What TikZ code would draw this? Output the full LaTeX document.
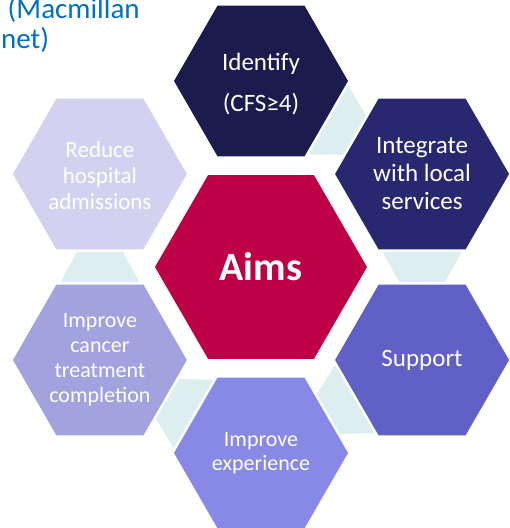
\documentclass[tikz,border=0pt]{standalone}
\usepackage{fontspec}
\setmainfont{Carlito}
\usepackage{tikz}
\usetikzlibrary{shapes.geometric,calc,positioning}

\definecolor{identC}{RGB}{28,27,78}
\definecolor{integC}{RGB}{40,40,112}
\definecolor{supportC}{RGB}{96,96,198}
\definecolor{expC}{RGB}{136,136,230}
\definecolor{cancerC}{RGB}{162,162,222}
\definecolor{reduceC}{RGB}{210,210,240}
\definecolor{aimsC}{RGB}{190,0,70}
\definecolor{linkC}{RGB}{221,238,240}
\definecolor{noteC}{RGB}{0,112,192}

\tikzset{
    hexa/.style={regular polygon, regular polygon sides=6, minimum size=174pt, inner sep=0pt, outer sep=0pt},
    hextext/.style={text=white, align=center, inner sep=0pt},
    note/.style={anchor=base west, text=noteC, font=\fontsize{29}{27}\selectfont, inner sep=0pt},
}

\begin{document}
\begin{tikzpicture}[x=1pt, y=1pt]
    \useasboundingbox (-261,-261) rectangle (249,267);

    \node[note] (note-1) at (-253.5,248) {(Macmillan};
    \node[note] (note-2) at (-260,218) {net)};

    \node[hexa, minimum size=212pt, fill=aimsC] (aims) at (0,0) {};
    \node[hextext, font=\fontsize{40}{44}\bfseries\selectfont] (aims-t) at (aims) {Aims};

    \foreach \ang/\hname/\hcol/\fs/\ls/\dy/\htext in {
        90/identify/identC/25/41/-3/{Identify\\(CFS≥4)},
        30/integrate/integC/25/28/0/{Integrate\\with local\\services},
        -30/support/supportC/25/28/0/{Support},
        -90/experience/expC/22/24/0/{Improve\\experience},
        -150/cancer/cancerC/22/25/0/{Improve\\cancer\\treatment\\completion},
        150/reduce/reduceC/23/26/-2/{Reduce\\hospital\\admissions}} {
        \node[hexa, fill=\hcol] (\hname) at (\ang:186pt) {};
        \node[hextext, font=\fontsize{\fs}{\ls}\selectfont, yshift=\dy pt] (\hname-t) at (\hname) {\htext};
    }

    % links between neighbours
    \foreach \a/\b in {identify/integrate, integrate/support, support/experience, experience/cancer, cancer/reduce} {
        \coordinate (\a-w) at ($(\a)!0.4194!(\b)$);
        \coordinate (\a-n) at ($(\a)!0.5806!(\b)$);
        \fill[linkC] ($(\a-w)!39.5pt!90:(\b)$) -- ($(\a-w)!39.5pt!-90:(\b)$)
            -- ($(\a-n)!23pt!-90:(\b)$) -- ($(\a-n)!23pt!90:(\b)$) -- cycle;
    }
\end{tikzpicture}
\end{document}
